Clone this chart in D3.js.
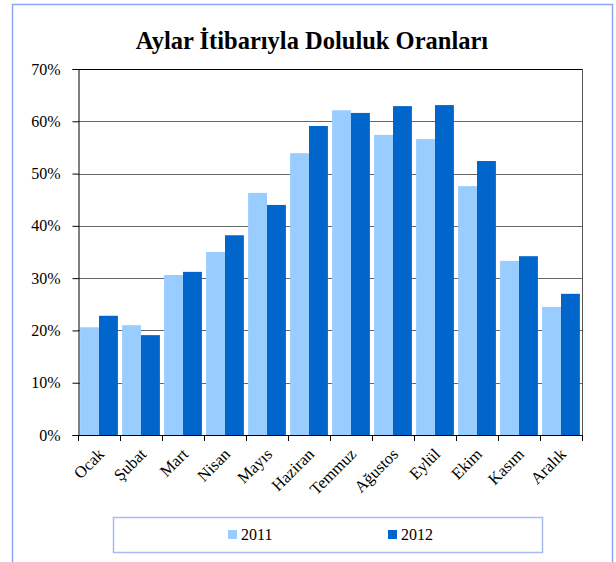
<!DOCTYPE html>
<html>
<head>
<meta charset="utf-8">
<script src="https://cdn.jsdelivr.net/npm/d3@7"></script>
<style>
  body { margin: 0; background: #fff; }
  svg { display: block; }
  svg text { font-family: "Liberation Serif", "Times New Roman", serif; fill: #000; }
</style>
</head>
<body>
<div id="chart"></div>
<script>
// Data
const months = ["Ocak", "Şubat", "Mart", "Nisan", "Mayıs", "Haziran", "Temmuz", "Ağustos", "Eylül", "Ekim", "Kasım", "Aralık"];
const series = ["2011", "2012"];
const values2011 = [20.6, 21.0, 30.6, 35.0, 46.3, 53.9, 62.1, 57.4, 56.6, 47.6, 33.3, 24.5];
const values2012 = [22.8, 19.1, 31.2, 38.2, 44.0, 59.1, 61.6, 62.9, 63.1, 52.4, 34.2, 27.0];
const yTicks = [0, 10, 20, 30, 40, 50, 60, 70];
const colors = ["#99ccff", "#0066cc"];

function drawChart() {
    let width = 616;
    let height = 562;
    const margin = { top: 69, right: 34, bottom: 127, left: 78 };
    const serif = '"Liberation Serif", "Times New Roman", serif';

    const svg = d3.select("#chart").append("svg")
        .attr("width", width)
        .attr("height", height);

    // outer frame
    svg.append("rect")
        .attr("x", 12.5).attr("y", 4.5)
        .attr("width", 600).attr("height", 580)
        .attr("fill", "none")
        .attr("stroke", "#8aa6f2")
        .attr("stroke-width", 1.5);

    svg.append("text")
        .attr("x", 312).attr("y", 49)
        .attr("text-anchor", "middle")
        .style("font-family", serif)
        .style("font-weight", "bold")
        .style("font-size", "24.5px")
        .text("Aylar İtibarıyla Doluluk Oranları");

    const x0 = d3.scaleBand()
        .domain(months)
        .range([margin.left, width - margin.right])
        .paddingInner(0.1)
        .paddingOuter(0.05);

    const x1 = d3.scaleBand()
        .domain(series)
        .range([0, x0.bandwidth()]);

    const y = d3.scaleLinear()
        .domain([0, 70])
        .range([height - margin.bottom, margin.top]);

    // grid lines
    svg.append("g")
        .selectAll("line")
        .data(yTicks.slice(1))
        .join("line")
        .attr("x1", margin.left).attr("x2", width - margin.right)
        .attr("y1", d => Math.round(y(d)) + 0.5)
        .attr("y2", d => Math.round(y(d)) + 0.5)
        .attr("stroke", d => d === 70 ? "#000" : "#666")
        .attr("stroke-width", 1);

    // bars
    const rows = months.map((m, i) => ({ month: m, vals: [values2011[i], values2012[i]] }));
    svg.append("g")
        .selectAll("g")
        .data(rows)
        .join("g")
        .attr("transform", d => `translate(${x0(d.month)},0)`)
        .selectAll("rect")
        .data(d => d.vals.map((v, j) => ({ key: series[j], v: v, j: j })))
        .join("rect")
        .attr("x", d => x1(d.key))
        .attr("width", x1.bandwidth())
        .attr("y", d => y(d.v))
        .attr("height", d => y(0) - y(d.v))
        .attr("fill", d => colors[d.j]);

    // plot frame right side
    svg.append("line")
        .attr("x1", width - margin.right + 0.5).attr("x2", width - margin.right + 0.5)
        .attr("y1", margin.top).attr("y2", height - margin.bottom)
        .attr("stroke", "#555");

    // y axis
    const yAxis = svg.append("g")
        .attr("transform", `translate(${margin.left + 0.5},0)`)
        .call(d3.axisLeft(y).tickValues(yTicks).tickFormat(d => d + "%").tickSize(6).tickPadding(12));
    yAxis.attr("font-family", null);
    yAxis.selectAll("text")
        .style("font-family", serif)
        .style("font-size", "16px")
        .attr("fill", "#000");
    yAxis.select(".domain").attr("stroke", "#000");
    yAxis.selectAll(".tick line").attr("stroke", "#000");

    // x axis
    const boundaries = d3.range(months.length + 1).map(i => margin.left + i * (width - margin.left - margin.right) / months.length);
    svg.append("line")
        .attr("x1", margin.left).attr("x2", width - margin.right)
        .attr("y1", y(0) + 0.5).attr("y2", y(0) + 0.5)
        .attr("stroke", "#000");
    svg.append("g")
        .selectAll("line")
        .data(boundaries)
        .join("line")
        .attr("x1", d => Math.round(d) + 0.5).attr("x2", d => Math.round(d) + 0.5)
        .attr("y1", y(0)).attr("y2", y(0) + 6)
        .attr("stroke", "#000");

    svg.append("g")
        .selectAll("text")
        .data(months)
        .join("text")
        .attr("transform", d => `translate(${x0(d) + x0.bandwidth() / 2 - 2},${y(0) + 12}) rotate(-45)`)
        .attr("text-anchor", "end")
        .attr("dy", "0.7em")
        .style("font-family", serif)
        .style("font-size", "16.5px")
        .text(d => d);

    // legend
    svg.append("rect")
        .attr("x", 113.5).attr("y", 517.5)
        .attr("width", 429).attr("height", 35)
        .attr("fill", "none")
        .attr("stroke", "#a9baf5")
        .attr("stroke-width", 1.5);

    const legend = svg.append("g")
        .selectAll("g")
        .data(series)
        .join("g")
        .attr("transform", (d, i) => `translate(${228 + i * 160},530)`);
    legend.append("rect")
        .attr("width", 9).attr("height", 9)
        .attr("fill", (d, i) => colors[i]);
    legend.append("text")
        .attr("x", 13).attr("y", 10)
        .style("font-family", serif)
        .style("font-size", "16px")
        .text(d => d);
}

document.addEventListener("DOMContentLoaded", function (e) {
    drawChart();
});
</script>
</body>
</html>
